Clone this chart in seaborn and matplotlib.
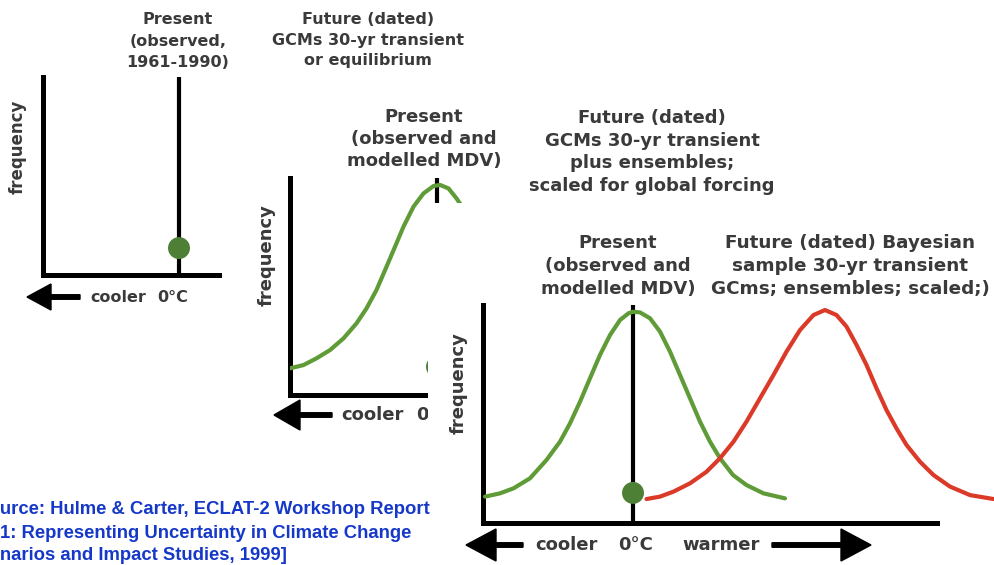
import matplotlib
matplotlib.use("Agg")
import matplotlib.pyplot as plt
import matplotlib.transforms as mtransforms
from matplotlib.patches import Rectangle, FancyArrow
import seaborn as sns

# ---------------- data ----------------
# panel 2: present distribution (observed and modelled MDV), left part visible
p2_temp = [-2.94, -2.67, -2.41, -2.14, -1.87, -1.61, -1.41, -1.21, -1.01, -0.84,
           -0.67, -0.47, -0.27, -0.07, 0.06, 0.23, 0.39, 0.59]
p2_freq = [0.123, 0.138, 0.169, 0.207, 0.261, 0.330, 0.399, 0.484, 0.591, 0.683,
           0.776, 0.868, 0.929, 0.963, 0.968, 0.952, 0.906, 0.837]

# panel 3: present distribution
p3_present_temp = [-2.96, -2.66, -2.39, -2.06, -1.73, -1.46, -1.26, -1.06, -0.86,
                   -0.66, -0.46, -0.26, -0.09, 0.0, 0.14, 0.34, 0.54, 0.74, 0.94,
                   1.14, 1.34, 1.54, 1.74, 2.0, 2.27, 2.61, 3.04]
p3_present_freq = [0.121, 0.136, 0.159, 0.205, 0.289, 0.373, 0.457, 0.556, 0.664,
                   0.771, 0.862, 0.931, 0.962, 0.969, 0.966, 0.939, 0.878, 0.786,
                   0.679, 0.572, 0.465, 0.373, 0.297, 0.220, 0.174, 0.136, 0.113]

# panel 3: future (dated) Bayesian distribution
p3_future_temp = [0.27, 0.54, 0.81, 1.14, 1.47, 1.74, 2.01, 2.27, 2.54, 2.81, 3.07,
                  3.34, 3.61, 3.84, 4.07, 4.27, 4.47, 4.67, 4.87, 5.07, 5.27, 5.47,
                  5.74, 6.01, 6.34, 6.74, 7.21]
p3_future_freq = [0.110, 0.121, 0.144, 0.182, 0.235, 0.297, 0.373, 0.465, 0.572,
                  0.679, 0.786, 0.885, 0.954, 0.977, 0.954, 0.901, 0.817, 0.725,
                  0.618, 0.518, 0.434, 0.358, 0.281, 0.220, 0.167, 0.128, 0.110]

present_temp = [0.0]
p1_dot_freq = [0.136]
p2_dot_freq = [0.13]
p3_dot_freq = [0.138]

# texts
p1_present_label = "Present\n(observed,\n1961-1990)"
p1_future_label = "Future (dated)\nGCMs 30-yr transient\nor equilibrium"
p2_present_label = "Present\n(observed and\nmodelled MDV)"
p2_future_label = "Future (dated)\nGCMs 30-yr transient\nplus ensembles;\nscaled for global forcing"
p3_present_label = "Present\n(observed and\nmodelled MDV)"
p3_future_label = "Future (dated) Bayesian\nsample 30-yr transient\nGCms; ensembles; scaled;)"
ylabel_text = "frequency"
cooler_text = "cooler"
zero_text = "0\u00b0C"
warmer_text = "warmer"
source_lines = ["[Source: Hulme & Carter, ECLAT-2 Workshop Report",
                "1: Representing Uncertainty in Climate Change",
                "Scenarios and Impact Studies, 1999]"]

# ---------------- styling ----------------
GREEN = "#5f9b36"
DOT = "#4d7f35"
RED = "#dc3a28"
GREY = "#3a3a3a"
BLUE = "#1538c8"
CURVE_LW = 3.0

sns.set_theme(style="white")
plt.rcParams['font.family'] = ['DejaVu Sans']

W, H = 995, 565
fig = plt.figure(figsize=(W / 100, H / 100), dpi=100)
fig.patch.set_facecolor("white")
# pixel coordinates measured from the top-left corner
T = mtransforms.Affine2D().scale(1 / W, -1 / H).translate(0, 1) + fig.transFigure
PX = 50.0  # pixels per temperature unit


def panel_axes(left, top, right, bottom, zero_px, z):
    ax = fig.add_axes([left / W, 1 - bottom / H, (right - left) / W, (bottom - top) / H])
    ax.set_zorder(z)
    ax.set_facecolor("none")
    for s in ["top", "right"]:
        ax.spines[s].set_visible(False)
    for s in ["left", "bottom"]:
        ax.spines[s].set_visible(True)
        ax.spines[s].set_linewidth(3.6)
        ax.spines[s].set_color("black")
    ax.set_xticks([])
    ax.set_yticks([])
    ax.grid(False)
    return ax, ((left - zero_px) / PX, (right - zero_px) / PX)


def label(ax, x, y, s, size, ls=1.15, color=GREY, rot=0):
    return ax.text(x, y, s, transform=T, ha="center", va="center", fontsize=size,
                   fontweight="bold", color=color, clip_on=False, linespacing=ls,
                   rotation=rot, multialignment="center")


def arrow(ax, x_tail, x_tip, y, hw, hl, w=4.5):
    ax.add_patch(FancyArrow(x_tail, y, x_tip - x_tail, 0, width=w, head_width=hw,
                            head_length=hl, length_includes_head=True, transform=T,
                            color="black", clip_on=False, zorder=3))


def curve(ax, x, y, color):
    sns.lineplot(x=x, y=y, ax=ax, color=color, lw=CURVE_LW, sort=False, zorder=3,
                 solid_joinstyle="round", solid_capstyle="round")


# ---------------- panel 1 ----------------
ax1, xl1 = panel_axes(43, 77, 222, 275, 179, 1)
ax1.axvline(0, color="black", lw=3.0, zorder=2)
sns.scatterplot(x=present_temp, y=p1_dot_freq, ax=ax1, s=250, color=DOT,
                edgecolor="none", zorder=4, clip_on=False)
label(ax1, 178, 41, p1_present_label, 11.5, ls=1.52)
label(ax1, 368, 40, p1_future_label, 11.5, ls=1.5)
label(ax1, 18, 147, ylabel_text, 12, rot=90)
label(ax1, 118, 297, cooler_text, 11.5)
label(ax1, 173, 297, zero_text, 11.5)
arrow(ax1, 80, 27, 297, 26, 24, 4.5)
ax1.set_xlim(*xl1)
ax1.set_ylim(0, 1)

# white sheet of panel 2
fig.add_artist(Rectangle((222, 95), 900, 600, transform=T, facecolor="white",
                         edgecolor="none", zorder=2))

# ---------------- panel 2 ----------------
ax2, xl2 = panel_axes(290, 178, 640, 395, 437, 3)
ax2.axvline(0, color="black", lw=3.0, zorder=2)
curve(ax2, p2_temp, p2_freq, GREEN)
sns.scatterplot(x=present_temp, y=p2_dot_freq, ax=ax2, s=250, color=DOT,
                edgecolor="none", zorder=4, clip_on=False)
label(ax2, 424, 139, p2_present_label, 13, ls=1.27)
label(ax2, 652, 152, p2_future_label, 13, ls=1.32)
label(ax2, 267, 255, ylabel_text, 13, rot=90)
label(ax2, 372, 415, cooler_text, 13)
t0 = label(ax2, 434, 415, zero_text, 13)
t0.set_clip_box(mtransforms.TransformedBbox(
    mtransforms.Bbox([[0, 0], [428 / W, 1]]), fig.transFigure))
t0.set_clip_on(True)
arrow(ax2, 332, 274, 415, 30, 26, 4.5)
ax2.set_xlim(*xl2)
ax2.set_ylim(0, 1)

# white sheet of panel 3
fig.add_artist(Rectangle((428, 203), 900, 600, transform=T, facecolor="white",
                         edgecolor="none", zorder=4))

# ---------------- panel 3 ----------------
ax3, xl3 = panel_axes(483, 305, 995, 523, 633, 5)
ax3.axvline(0, color="black", lw=3.0, zorder=2)
curve(ax3, p3_present_temp, p3_present_freq, GREEN)
curve(ax3, p3_future_temp, p3_future_freq, RED)
sns.scatterplot(x=present_temp, y=p3_dot_freq, ax=ax3, s=250, color=DOT,
                edgecolor="none", zorder=4, clip_on=False)
label(ax3, 618, 266, p3_present_label, 13, ls=1.36)
label(ax3, 850, 266, p3_future_label, 13.2, ls=1.35)
label(ax3, 459, 383, ylabel_text, 13, rot=90)
label(ax3, 566, 545, cooler_text, 13)
label(ax3, 636, 545, zero_text, 13)
label(ax3, 721, 545, warmer_text, 13)
arrow(ax3, 523, 466, 545, 32, 30, 4.5)
arrow(ax3, 772, 871, 545, 32, 30, 4.5)
ax3.set_xlim(*xl3)
ax3.set_ylim(0, 1)
ax3.spines["bottom"].set_bounds(xl3[0], (937 - 633) / PX)

# ---------------- source ----------------
src_x = [-30, 0, -33]
src_y = [509, 533, 556]
for sx, sy, s in zip(src_x, src_y, source_lines):
    fig.text(sx, sy, s, transform=T, ha="left", va="center", fontsize=13.3,
             fontweight="bold", color=BLUE, family=["Liberation Sans", "DejaVu Sans"],
             zorder=10)

fig.savefig("out.png", dpi=100, facecolor="white")
